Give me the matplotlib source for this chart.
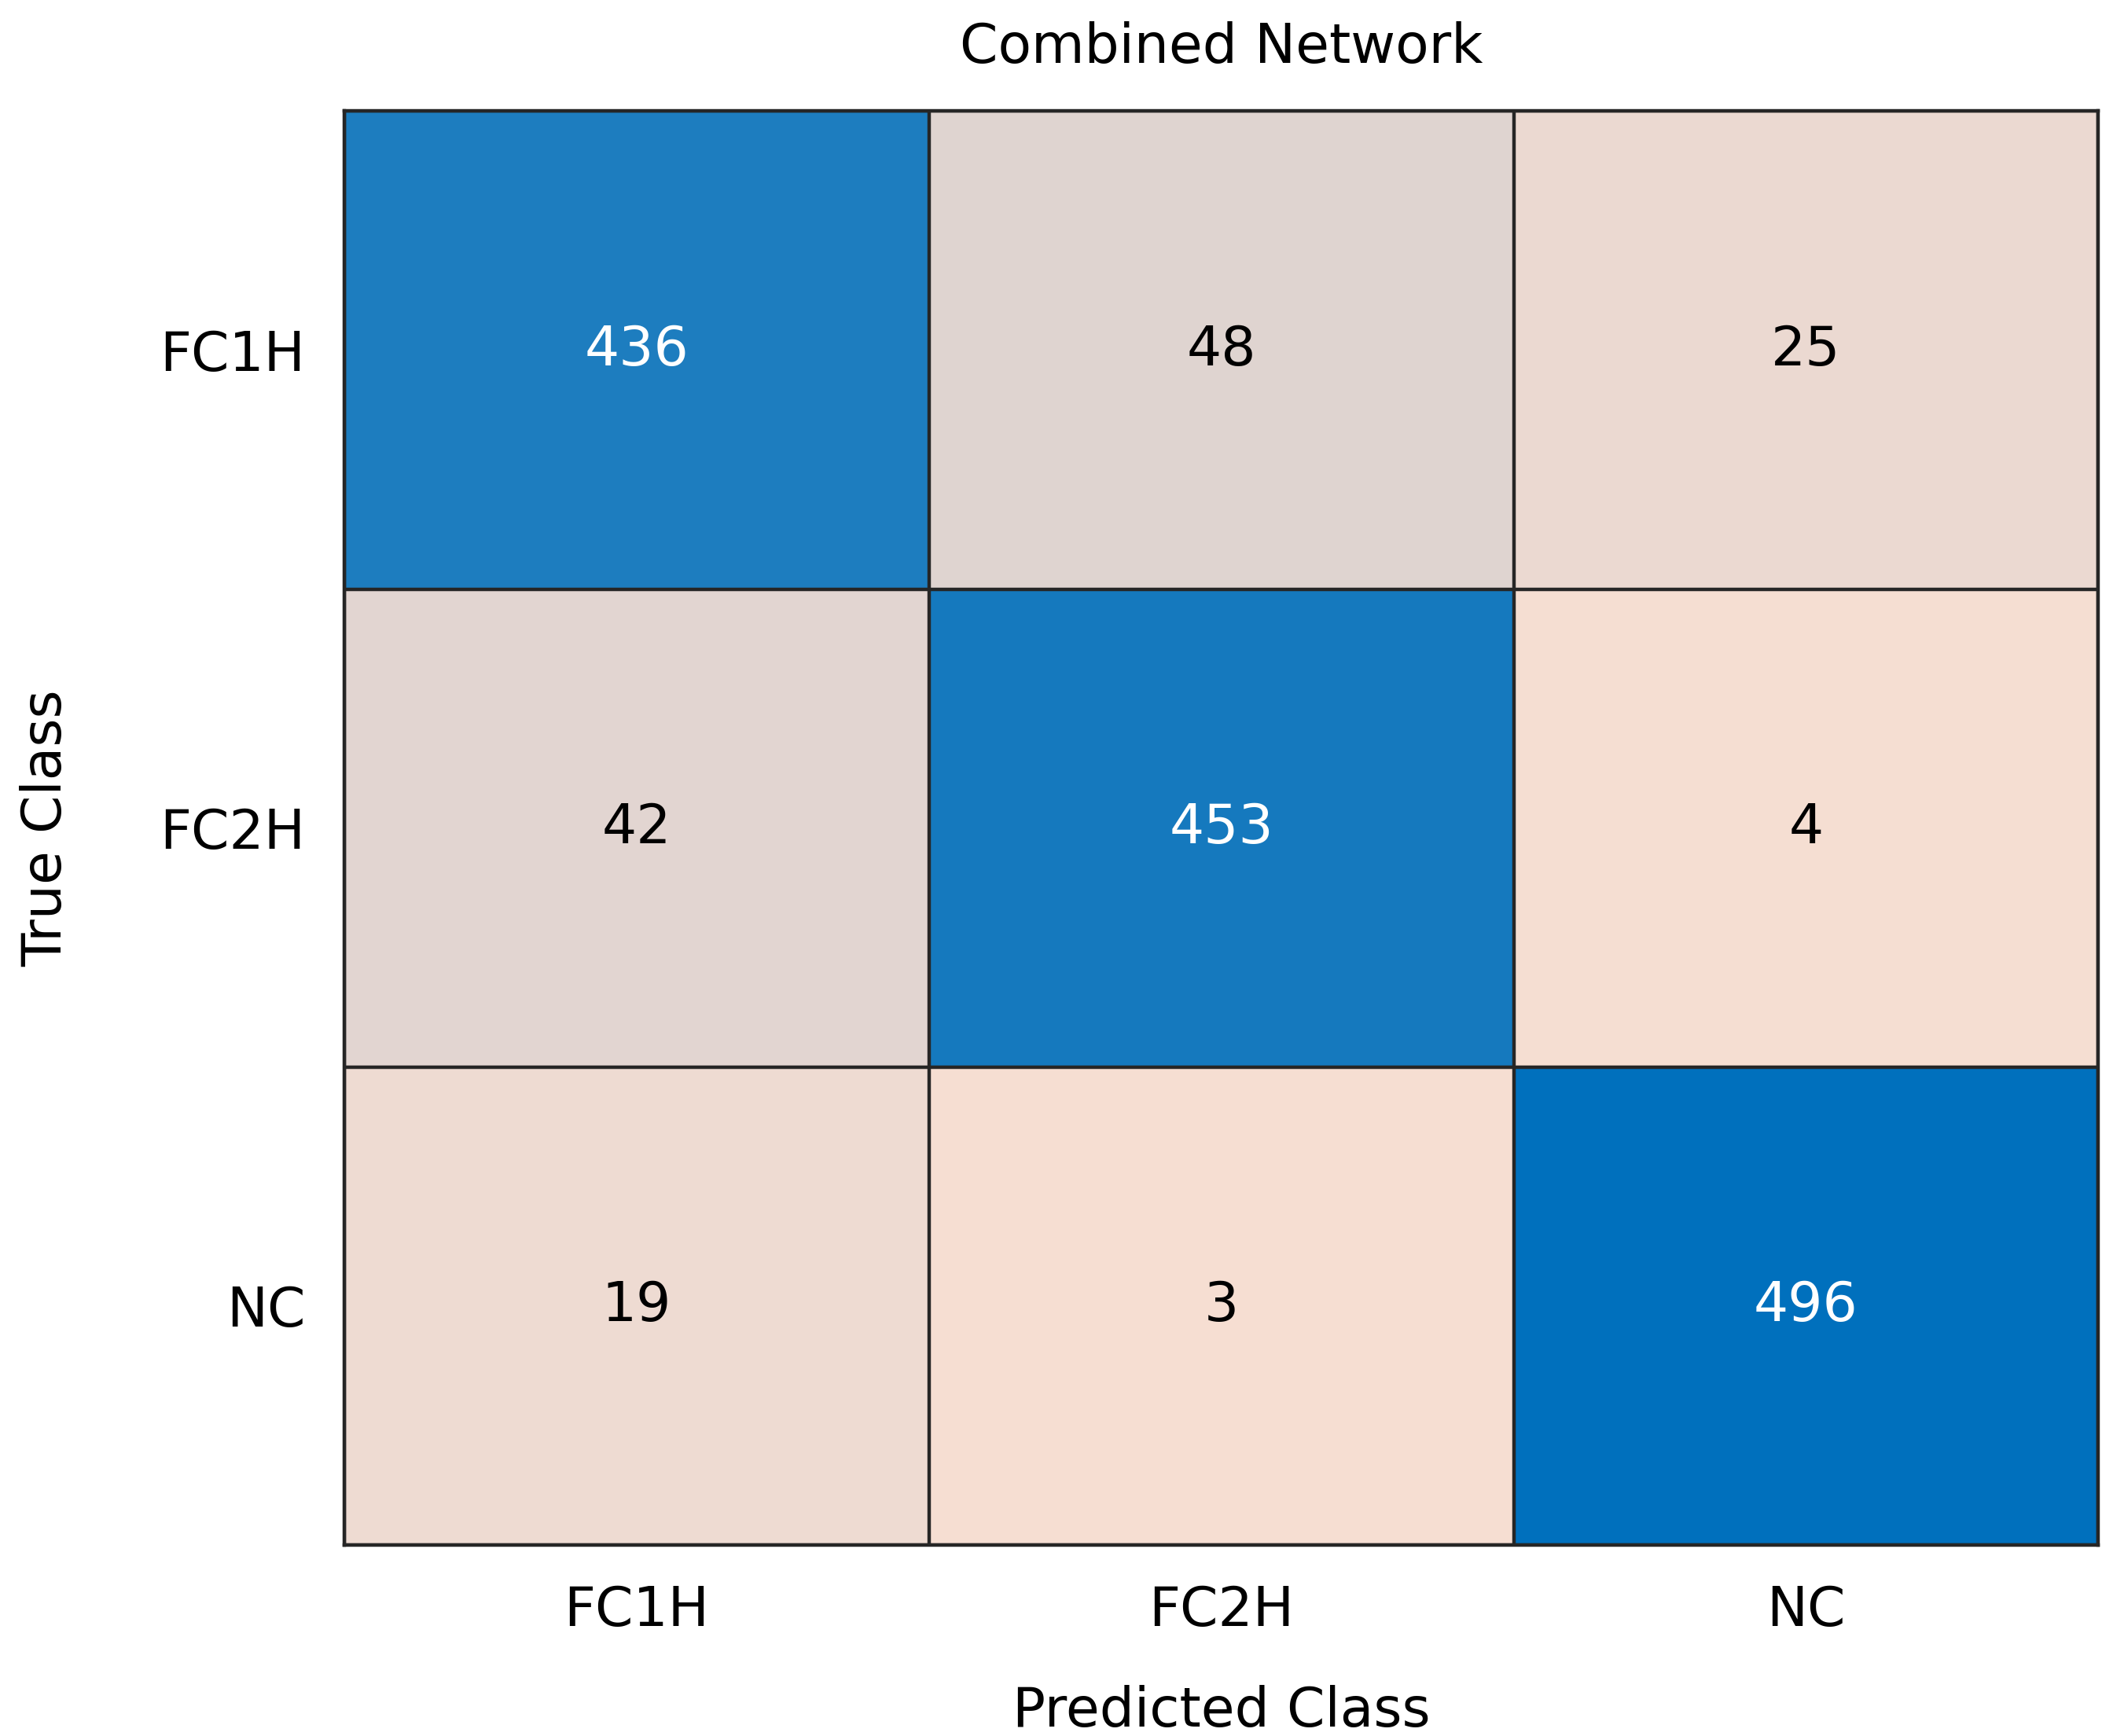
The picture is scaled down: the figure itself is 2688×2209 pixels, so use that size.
import numpy as np
import matplotlib
matplotlib.use("Agg")
import matplotlib.pyplot as plt
from matplotlib.colors import LinearSegmentedColormap

classes = ["FC1H", "FC2H", "NC"]
counts = np.array([[436, 48, 25],
                   [42, 453, 4],
                   [19, 3, 496]])

cmap = LinearSegmentedColormap.from_list("cc", ["#F7DFD3", "#0070BD"])

fig = plt.figure(figsize=(13.44, 11.045), dpi=200)
ax = fig.add_axes([0.163, 0.110, 0.830, 0.826])
ax.imshow(counts, cmap=cmap, vmin=0, vmax=counts.max(), aspect="auto")
n = len(classes)
for k in range(n + 1):
    ax.axhline(k - 0.5, color="#262626", lw=1.6)
    ax.axvline(k - 0.5, color="#262626", lw=1.6)
for i in range(n):
    for j in range(n):
        v = counts[i, j]
        ax.text(j, i, str(v), ha="center", va="center", fontsize=25,
                color="white" if v > counts.max() / 2 else "black")
ax.set_xticks(range(n))
ax.set_xticklabels(classes, fontsize=25)
ax.set_yticks(range(n))
ax.set_yticklabels(classes, fontsize=25)
ax.tick_params(length=0, pad=18)
for s in ax.spines.values():
    s.set_color("#262626")
    s.set_linewidth(1.6)
ax.set_xlabel("Predicted Class", fontsize=25, labelpad=22)
ax.set_ylabel("True Class", fontsize=25, labelpad=40)
ax.set_title("Combined Network", fontsize=25, pad=22)
fig.savefig("out.png", dpi=200)
